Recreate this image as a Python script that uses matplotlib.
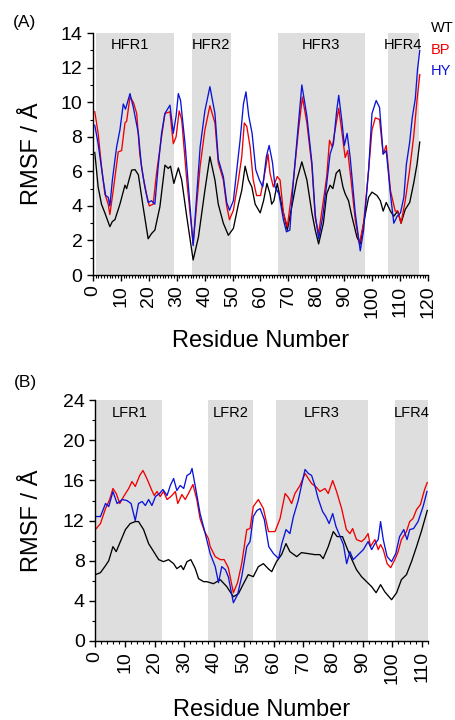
import matplotlib
matplotlib.use("Agg")
import matplotlib.pyplot as plt
from matplotlib.ticker import MultipleLocator

plt.rcParams['font.family'] = ['Liberation Sans', 'DejaVu Sans']

# ---------------- Panel A (heavy chain) ----------------
wt_a_x = [0.7, 1.9, 3.1, 4.3, 5.2, 6.1, 7.0, 7.9, 9.7, 11.5, 12.1, 13.9, 15.1, 16.3, 18.0, 19.8, 21.0, 22.2,
          24.0, 25.8, 27.0, 27.8, 29.0, 30.6, 31.8, 33.6, 35.9, 37.8, 40.1, 41.9, 43.7, 44.9, 46.7, 48.5, 50.3,
          52.1, 53.3, 54.5, 55.7, 56.9, 58.1, 59.9, 61.1, 62.3, 63.4, 64.0, 64.8, 66.0, 67.0, 68.2, 69.6, 71.2,
          73.0, 74.8, 76.6, 78.4, 79.6, 80.8, 82.5, 83.7, 84.9, 85.9, 87.1, 88.3, 89.5, 90.3, 91.5, 92.7, 94.5,
          95.7, 96.9, 98.7, 99.9, 101.7, 102.9, 103.9, 105.0, 106.5, 107.7, 109.1, 110.3, 111.8, 113.4, 114.8,
          116.0, 117.0]
wt_a_y = [7.1, 5.1, 4.1, 3.6, 3.2, 2.8, 3.1, 3.2, 4.1, 5.2, 5.0, 6.07, 6.1, 5.8, 3.95, 2.1, 2.4, 2.6,
          3.95, 6.36, 6.17, 6.3, 5.3, 6.2, 5.5, 3.4, 0.87, 2.2, 4.9, 6.85, 5.5, 4.1, 3.0, 2.3, 2.7,
          4.1, 4.9, 6.3, 5.5, 5.1, 4.1, 3.6, 4.3, 5.3, 4.7, 4.1, 4.3, 5.3, 4.5, 3.6, 2.6, 3.95,
          5.5, 6.55, 5.5, 3.6, 2.6, 1.8, 3.0, 4.7, 5.2, 5.0, 5.9, 6.1, 5.1, 4.7, 4.3, 3.4, 2.2,
          1.8, 3.0, 4.5, 4.8, 4.6, 4.3, 3.7, 4.2, 3.7, 3.4, 3.7, 3.0, 3.8, 4.2, 5.3,
          6.4, 7.7]

bp_a_x = [0.7, 1.9, 3.1, 4.3, 5.5, 6.1, 7.3, 9.1, 10.3, 11.5, 12.1, 13.3, 14.5, 15.7, 16.8, 18.0, 19.2, 20.2,
          21.6, 22.8, 24.6, 25.8, 27.6, 28.8, 29.8, 30.9, 31.8, 33.6, 35.9, 38.4, 40.1, 41.9, 43.7, 44.9,
          46.7, 47.9, 48.9, 50.3, 52.1, 53.3, 54.2, 55.1, 56.3, 57.4, 58.6, 60.0, 61.1, 62.7, 63.4, 64.6,
          66.0, 67.0, 68.2, 69.6, 71.8, 73.6, 75.0, 76.6, 78.4, 79.6, 80.8, 82.5, 83.7, 84.7, 85.7, 86.7,
          88.0, 89.2, 90.3, 91.2, 92.4, 93.9, 95.4, 96.9, 98.7, 99.9, 101.1, 102.6, 103.9, 105.0, 106.5,
          108.2, 109.1, 110.3, 111.8, 113.4, 114.8, 116.0, 117.0]
bp_a_y = [9.45, 8.2, 6.3, 4.7, 4.1, 3.5, 4.9, 7.13, 7.2, 8.8, 8.9, 10.3, 10.0, 9.35, 7.0, 5.7, 4.7, 4.0,
          4.1, 5.9, 8.0, 9.35, 9.45, 7.6, 8.0, 9.5, 9.0, 5.5, 1.8, 6.3, 8.4, 9.8, 8.8, 6.5,
          5.5, 4.0, 3.2, 3.75, 5.5, 6.85, 8.8, 8.6, 7.4, 5.5, 4.6, 4.6, 5.5, 7.0, 5.9, 5.1,
          5.7, 5.5, 3.6, 2.8, 5.5, 8.4, 10.3, 8.8, 6.3, 3.3, 2.4, 4.3, 5.7, 7.8, 7.4, 8.4,
          9.65, 8.2, 6.8, 7.2, 5.5, 3.2, 1.8, 3.0, 6.1, 8.4, 9.1, 9.0, 7.0, 7.5, 4.9,
          3.7, 3.7, 3.0, 4.3, 6.1, 8.0, 10.1, 11.6]

hy_a_x = [0.7, 1.9, 3.7, 4.6, 5.5, 6.1, 7.0, 8.5, 9.7, 10.9, 11.7, 13.3, 14.5, 16.3, 17.4, 18.6, 19.8, 21.0,
          22.2, 23.4, 24.6, 25.8, 27.6, 28.8, 29.8, 30.6, 31.4, 33.0, 35.9, 38.4, 40.1, 41.9, 43.7, 44.9,
          46.7, 47.9, 48.9, 50.3, 51.8, 52.7, 53.9, 54.8, 55.8, 57.0, 58.3, 59.6, 60.8, 62.1, 63.1, 64.3,
          65.2, 66.6, 68.2, 69.3, 70.5, 71.8, 73.6, 74.8, 76.6, 78.4, 79.6, 80.8, 82.3, 83.7, 84.9, 86.1,
          87.3, 88.0, 89.2, 90.0, 91.0, 92.1, 93.9, 95.7, 96.9, 98.7, 99.9, 101.4, 102.6, 103.9, 105.0,
          106.5, 107.7, 108.9, 110.1, 111.3, 112.2, 113.4, 114.3, 115.4, 116.2, 117.0]
hy_a_y = [8.67, 7.6, 5.5, 4.6, 4.5, 4.0, 5.5, 7.4, 8.4, 9.9, 9.6, 10.5, 9.7, 8.2, 6.3, 5.1, 4.2, 4.3,
          4.1, 6.3, 8.2, 9.35, 9.83, 8.2, 9.2, 10.5, 10.1, 7.6, 1.7, 7.4, 9.5, 10.9, 9.35, 6.7,
          5.7, 4.2, 3.75, 4.3, 6.5, 7.8, 9.9, 10.6, 9.2, 8.2, 6.1, 5.5, 5.1, 6.85, 7.5, 6.5,
          5.1, 4.7, 3.2, 2.5, 2.6, 5.5, 8.8, 11.0, 9.2, 6.5, 3.5, 2.1, 3.4, 5.3, 7.0, 7.6,
          9.55, 10.4, 8.8, 7.5, 8.2, 6.8, 3.6, 1.4, 2.6, 6.1, 9.35, 10.1, 9.7, 7.0, 7.2,
          4.7, 3.0, 3.4, 3.6, 4.5, 6.4, 7.7, 9.1, 10.2, 11.9, 13.0]

hfr_names = ["HFR1", "HFR2", "HFR3", "HFR4"]
hfr_start = [1.1, 35.5, 66.3, 105.7]
hfr_end = [29.0, 49.5, 97.5, 116.8]
hfr_label_x = [13.3, 42.3, 81.7, 111.0]

# ---------------- Panel B (light chain) ----------------
wt_b_x = [0.1, 1.8, 3.5, 4.6, 6.0, 7.1, 8.5, 10.2, 11.8, 13.5, 14.6, 16.3, 18.0, 19.7, 21.4, 23.0, 24.7, 26.4,
          27.5, 28.9, 29.7, 30.9, 32.2, 33.7, 34.8, 36.5, 37.6, 39.8, 42.1, 44.3, 46.5, 48.2, 49.9, 51.5,
          53.2, 54.9, 56.6, 58.2, 59.4, 61.0, 62.7, 64.2, 65.5, 67.8, 69.4, 71.7, 73.9, 75.6, 76.7, 78.4,
          80.1, 81.4, 83.2, 84.5, 86.2, 87.9, 89.6, 91.3, 93.0, 94.5, 96.0, 97.4, 99.7, 101.4, 103.0,
          104.7, 106.4, 108.1, 109.8, 111.7]
wt_b_y = [6.6, 6.8, 7.5, 8.0, 9.4, 8.9, 9.9, 11.1, 11.7, 11.9, 11.9, 11.1, 9.7, 8.9, 8.1, 7.9, 8.1, 7.7,
          7.2, 7.5, 7.1, 7.9, 8.1, 7.2, 6.2, 5.9, 5.9, 5.7, 6.1, 5.4, 4.4, 4.7, 5.7, 6.6,
          6.4, 7.4, 7.7, 7.2, 6.9, 7.9, 8.6, 9.7, 8.9, 8.4, 8.8, 8.7, 8.6, 8.6, 8.2, 9.4,
          10.9, 10.4, 10.4, 9.4, 8.2, 7.1, 6.4, 5.9, 5.4, 4.8, 5.6, 4.9, 4.1, 4.8, 6.1,
          6.6, 7.9, 9.4, 11.0, 13.0]

bp_b_x = [0.4, 1.8, 3.5, 4.9, 6.0, 7.1, 8.3, 9.6, 11.3, 12.4, 13.5, 15.0, 16.1, 17.4, 19.1, 19.9, 20.8, 21.9,
          23.0, 24.2, 25.5, 27.0, 27.8, 29.2, 30.3, 31.4, 32.9, 34.2, 35.3, 36.7, 38.1, 38.7, 40.4, 42.1,
          43.4, 44.8, 46.5, 47.9, 49.3, 51.0, 52.1, 53.2, 54.9, 56.6, 58.3, 60.5, 62.2, 63.9, 65.0, 66.1,
          67.2, 68.9, 70.6, 71.7, 72.8, 74.5, 75.6, 77.3, 78.4, 79.9, 81.2, 82.9, 84.5, 85.7, 86.6, 87.9,
          89.6, 90.7, 91.8, 92.6, 94.1, 95.2, 96.0, 96.9, 98.2, 99.4, 100.8, 101.9, 103.0, 104.7, 105.8,
          106.9, 108.1, 109.4, 110.8, 111.7]
bp_b_y = [11.2, 11.7, 13.2, 14.1, 15.2, 14.7, 13.7, 14.4, 15.2, 15.9, 15.4, 16.5, 17.0, 16.2, 15.0, 14.5, 14.9, 14.4,
          14.9, 14.1, 14.4, 14.9, 13.7, 14.6, 14.1, 14.7, 15.6, 14.1, 12.2, 11.0, 10.2, 9.4, 8.4, 8.1,
          8.1, 7.3, 4.8, 5.8, 7.7, 11.1, 11.2, 13.4, 14.1, 13.2, 10.9, 10.9, 12.2, 14.7, 14.3, 13.7,
          14.7, 15.5, 16.7, 16.2, 15.7, 15.3, 14.9, 15.2, 14.7, 16.0, 14.9, 13.2, 11.1, 10.7, 11.2, 10.1,
          9.9, 10.2, 10.7, 9.4, 10.1, 9.1, 9.6, 9.1, 7.7, 7.3, 8.1, 8.9, 10.1, 10.9, 11.9,
          12.2, 13.1, 13.6, 15.1, 15.8]

hy_b_x = [0.4, 1.8, 3.5, 4.6, 6.0, 7.4, 9.1, 10.7, 12.1, 13.5, 14.6, 15.8, 16.9, 18.0, 19.1, 20.3, 21.7, 22.8,
          24.2, 25.3, 26.4, 27.5, 28.6, 29.8, 30.9, 32.0, 32.6, 33.7, 35.3, 36.7, 38.7, 40.4, 41.5, 42.6,
          43.8, 44.8, 46.5, 47.9, 49.3, 51.0, 52.1, 53.2, 54.4, 55.5, 56.9, 58.4, 60.0, 61.7, 62.8, 64.2,
          65.5, 66.7, 68.3, 69.4, 70.6, 71.7, 72.8, 73.9, 75.0, 76.5, 77.6, 78.7, 79.9, 81.0, 82.4, 83.5,
          84.6, 85.7, 86.8, 88.5, 90.2, 91.8, 93.0, 94.1, 95.2, 96.0, 96.9, 98.2, 99.7, 101.1, 102.4,
          103.8, 104.9, 105.8, 107.1, 108.6, 110.3, 111.6]
hy_b_y = [12.4, 12.4, 13.7, 13.4, 14.9, 13.7, 14.1, 14.0, 13.7, 12.0, 13.7, 13.9, 13.5, 14.1, 13.5, 14.4, 14.7, 15.1,
          14.5, 15.5, 16.2, 15.0, 15.5, 15.2, 16.5, 16.7, 17.2, 15.4, 12.7, 11.1, 8.7, 7.4, 5.8, 7.4,
          7.1, 6.4, 3.8, 4.6, 6.4, 9.4, 9.9, 12.4, 13.0, 13.2, 12.1, 9.4, 8.7, 8.2, 9.7, 11.1,
          10.7, 12.4, 14.0, 15.5, 17.1, 16.7, 16.5, 15.5, 14.2, 12.9, 12.4, 11.7, 12.7, 11.4, 10.4, 9.6,
          7.7, 8.9, 8.1, 8.6, 9.1, 9.9, 9.1, 9.7, 10.1, 11.9, 10.1, 8.4, 7.9, 8.7, 10.4,
          11.1, 10.1, 11.1, 11.2, 11.9, 13.4, 14.9]

lfr_names = ["LFR1", "LFR2", "LFR3", "LFR4"]
lfr_start = [0.4, 37.8, 60.8, 100.8]
lfr_end = [22.6, 53.1, 91.7, 111.8]

series_names = ["WT", "BP", "HY"]
series_colors = ["black", "#f00000", "#0a14d8"]


def draw_panel(ax, curves, starts, ends, names, label_x, label_y, xmax, ymax, ymajor, yminor, xminor):
    for s, e in zip(starts, ends):
        ax.axvspan(s, e, color="#dedede", lw=0, zorder=0)
    for lx, name in zip(label_x, names):
        ax.text(lx, label_y, name, ha="center", va="center", fontsize=10.5)
    for (x, y), c in zip(curves, series_colors):
        ax.plot(x, y, color=c, lw=0.95, zorder=2)

    ax.set_xlim(0, xmax)
    ax.set_ylim(0, ymax)
    ax.xaxis.set_major_locator(MultipleLocator(10))
    ax.xaxis.set_minor_locator(MultipleLocator(xminor))
    ax.yaxis.set_major_locator(MultipleLocator(ymajor))
    ax.yaxis.set_minor_locator(MultipleLocator(yminor))
    ax.tick_params(which="major", direction="out", length=4, width=1, labelsize=14)
    ax.tick_params(which="minor", direction="out", length=2.2, width=0.8)
    ax.tick_params(axis="x", labelrotation=90)
    for sp in ["top", "right"]:
        ax.spines[sp].set_visible(False)
    for sp in ["left", "bottom"]:
        ax.spines[sp].set_linewidth(1)
    ax.set_xlabel("Residue Number", fontsize=17)
    ax.set_ylabel("RMSF / Å", fontsize=17)


def main():
    fig = plt.figure(figsize=(4.55, 7.2), dpi=100)
    ax_a = fig.add_axes([0.204, 0.618, 0.737, 0.336])
    ax_b = fig.add_axes([0.209, 0.110, 0.732, 0.334])

    draw_panel(ax_a, [(wt_a_x, wt_a_y), (bp_a_x, bp_a_y), (hy_a_x, hy_a_y)],
               hfr_start, hfr_end, hfr_names, hfr_label_x, 13.3, 120, 14, 2, 1, 1)
    lfr_label_x = [(s + e) / 2 for s, e in zip(lfr_start, lfr_end)]
    draw_panel(ax_b, [(wt_b_x, wt_b_y), (bp_b_x, bp_b_y), (hy_b_x, hy_b_y)],
               lfr_start, lfr_end, lfr_names, lfr_label_x, 22.7, 112, 24, 4, 2, 2)

    ax_a.xaxis.set_label_coords(0.5, -0.227)
    ax_b.xaxis.set_label_coords(0.5, -0.24)
    ax_a.yaxis.set_label_coords(-0.15, 0.5)
    ax_b.yaxis.set_label_coords(-0.157, 0.5)

    fig.text(25 / 455, 1 - 23 / 720, "(A)", ha="center", va="center", fontsize=12.5)
    fig.text(25 / 455, 1 - 383 / 720, "(B)", ha="center", va="center", fontsize=12.5)

    # legend text at the right edge
    for i, (name, c) in enumerate(zip(series_names, series_colors)):
        fig.text(430.5 / 455, 1 - (28 + 21.5 * i) / 720, name, color=c, ha="left", va="center", fontsize=10.5)

    fig.savefig("out.png", dpi=100)


if __name__ == "__main__":
    main()
